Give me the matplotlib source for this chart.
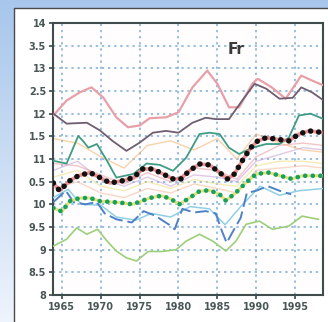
import numpy as np
import matplotlib.pyplot as plt
from matplotlib.patches import Rectangle

# series read as (year, value) pairs
pink_x = [1963.9, 1965.6, 1967.3, 1968.8, 1970.3, 1972.0, 1973.5, 1975.0, 1976.3, 1978.4,
          1980.0, 1981.8, 1983.7, 1985.0, 1986.5, 1987.8, 1989.5, 1990.2, 1992.0, 1993.8,
          1995.8, 1997.2, 1998.7]
pink_y = [11.96, 12.29, 12.47, 12.58, 12.36, 11.92, 11.70, 11.74, 11.90, 11.92,
          12.03, 12.58, 12.95, 12.66, 12.14, 12.14, 12.66, 12.77, 12.58, 12.33,
          12.84, 12.73, 12.62]

mauve_x = [1963.9, 1965.6, 1968.2, 1969.9, 1971.5, 1973.3, 1975.0, 1976.7, 1978.4, 1980.0,
           1981.8, 1983.5, 1984.8, 1986.5, 1988.2, 1989.8, 1991.3, 1993.0, 1994.7, 1995.8,
           1997.2, 1998.7]
mauve_y = [12.00, 11.78, 11.80, 11.63, 11.40, 11.18, 11.36, 11.58, 11.62, 11.58,
           11.80, 11.91, 11.88, 11.88, 12.29, 12.66, 12.55, 12.33, 12.35, 12.58,
           12.47, 12.29]

teal_x = [1963.9, 1965.6, 1967.1, 1967.7, 1968.4, 1969.5, 1970.8, 1972.0, 1974.2, 1975.9,
          1977.6, 1979.3, 1981.0, 1982.7, 1984.0, 1985.3, 1986.5, 1987.8, 1989.5, 1991.3,
          1993.0, 1994.2, 1995.5, 1997.0, 1998.7]
teal_y = [10.96, 10.90, 11.51, 11.40, 11.25, 11.33, 10.96, 10.59, 10.67, 10.90,
          10.87, 10.74, 11.03, 11.55, 11.58, 11.55, 11.25, 11.11, 11.25, 11.33,
          11.33, 11.47, 11.96, 12.00, 11.88]

mean_x = [1963.9, 1964.7, 1966.0, 1967.1, 1968.6, 1969.9, 1971.2, 1972.8, 1974.2, 1975.4,
          1976.7, 1978.0, 1979.3, 1980.3, 1981.4, 1982.7, 1984.0, 1985.3, 1986.3, 1987.2,
          1988.2, 1989.3, 1990.2, 1991.3, 1992.5, 1994.2, 1995.5, 1996.8, 1998.7]
mean_y = [10.47, 10.30, 10.52, 10.63, 10.70, 10.59, 10.47, 10.52, 10.59, 10.78,
          10.78, 10.67, 10.56, 10.56, 10.74, 10.89, 10.87, 10.70, 10.56, 10.67,
          10.96, 11.25, 11.40, 11.47, 11.44, 11.40, 11.55, 11.62, 11.58]

gmean_x = [1963.9, 1965.0, 1966.0, 1967.3, 1968.6, 1969.9, 1972.4, 1974.1, 1976.3, 1977.8,
           1979.0, 1980.1, 1981.4, 1982.7, 1984.0, 1985.3, 1986.1, 1987.4, 1988.7, 1990.0,
           1991.6, 1993.1, 1994.6, 1995.9, 1997.6, 1998.7]
gmean_y = [9.92, 9.84, 10.07, 10.14, 10.14, 10.07, 10.04, 10.00, 10.14, 10.19,
           10.12, 10.00, 10.14, 10.29, 10.31, 10.22, 10.08, 10.26, 10.48, 10.67,
           10.70, 10.63, 10.56, 10.63, 10.63, 10.63]

blue_x = [1963.9, 1965.5, 1966.5, 1968.0, 1969.5, 1970.5, 1972.0, 1974.0, 1975.5, 1977.0,
          1978.8, 1979.5, 1980.5, 1982.0, 1983.5, 1984.8, 1985.5, 1986.2, 1987.0, 1988.0,
          1988.8, 1990.0, 1991.5, 1993.0, 1994.5]
blue_y = [10.05, 10.30, 10.05, 10.00, 10.05, 9.80, 9.67, 9.60, 9.85, 9.75,
          9.55, 9.45, 9.90, 9.82, 9.85, 9.80, 9.45, 9.15, 9.40, 9.70,
          10.25, 10.30, 10.40, 10.30, 10.22]

cyan_x = [1963.9, 1965.8, 1967.5, 1970.0, 1972.0, 1974.5, 1976.5, 1979.0, 1981.5, 1984.0,
          1986.0, 1988.0, 1990.5, 1993.0, 1995.5, 1998.7]
cyan_y = [10.15, 10.33, 10.00, 9.98, 9.72, 9.65, 9.80, 9.72, 9.95, 9.90,
          9.55, 9.95, 10.40, 10.20, 10.30, 10.35]

lgreen_x = [1963.9, 1965.6, 1966.9, 1968.2, 1969.6, 1970.8, 1972.0, 1973.3, 1974.6, 1976.1,
            1977.9, 1979.7, 1981.0, 1982.7, 1984.4, 1986.1, 1987.4, 1988.7, 1990.4, 1992.1,
            1994.2, 1995.9, 1998.0]
lgreen_y = [9.08, 9.23, 9.48, 9.34, 9.45, 9.19, 8.97, 8.82, 8.75, 8.96,
            8.96, 9.00, 9.19, 9.34, 9.19, 8.97, 9.19, 9.56, 9.63, 9.45,
            9.52, 9.74, 9.67]

# fainter members of the ensemble
faint_x = [1963.9, 1967.0, 1970.0, 1973.0, 1976.0, 1979.0, 1982.0, 1985.0, 1987.5, 1990.0,
           1993.0, 1996.0, 1998.7]
orange_y = [11.45, 11.35, 11.05, 10.80, 11.30, 11.40, 11.20, 11.45, 11.00, 11.55, 11.35, 11.20, 11.15]
rose_y = [10.90, 10.85, 10.65, 10.45, 10.70, 10.50, 10.80, 10.75, 10.55, 11.05, 11.30, 11.35, 11.30]
violet_y = [10.75, 10.95, 10.55, 10.40, 10.60, 10.40, 10.65, 10.60, 10.50, 10.95, 11.10, 11.25, 11.20]
yellow_y = [10.60, 10.75, 10.40, 10.30, 10.50, 10.35, 10.55, 10.45, 10.40, 10.85, 10.95, 10.95, 10.90]
peach_y = [10.35, 10.50, 10.25, 10.15, 10.35, 10.25, 10.45, 10.35, 10.25, 10.75, 10.80, 10.85, 10.80]

x_ticks = [1965, 1970, 1975, 1980, 1985, 1990, 1995]
y_ticks = [14, 13.5, 13, 12.5, 12, 11.5, 11, 10.5, 10, 9.5, 9, 8.5, 8]
y_labels = ['14', '3.5', '13', '2.5', '12', '1.5', '11', '0.5', '10', '9.5', '9', '8.5', '8']

W, H = 328, 322
fig = plt.figure(figsize=(W / 100, H / 100), dpi=100)

# blue backdrop fading downwards
bg = fig.add_axes([0, 0, 1, 1], zorder=-2)
grad = np.linspace(0, 1, 256)[:, None]
top = np.array([168, 198, 236]) / 255
bot = np.array([238, 244, 252]) / 255
img = top[None, None, :] * (1 - grad[..., None]) + bot[None, None, :] * grad[..., None]
bg.imshow(img, aspect='auto', extent=[0, 1, 0, 1])
bg.set_axis_off()

# white panel
fig.patches.append(Rectangle((14 / W, -0.02), 1.0, 1 - 8 / H + 0.02, transform=fig.transFigure,
                             facecolor='white', edgecolor='#4a4a4a', lw=1.0, zorder=-1))

ax = fig.add_axes([53 / W, 1 - 295 / H, (323 - 53) / W, (295 - 23) / H])
ax.set_facecolor('#fffdfd')

for vals, col in [(orange_y, '#f2b878'), (rose_y, '#eaa0a8'), (violet_y, '#c8a8d8'),
                  (yellow_y, '#eee08a'), (peach_y, '#f4c0a0')]:
    ax.plot(faint_x, vals, color=col, lw=1.0, alpha=0.6, zorder=2)

ax.plot(pink_x, pink_y, color='#e8a0a8', lw=1.6, zorder=3)
ax.plot(mauve_x, mauve_y, color='#6e5e70', lw=1.3, zorder=3)
ax.plot(teal_x, teal_y, color='#3f9c84', lw=1.3, zorder=3)
ax.plot(cyan_x, cyan_y, color='#8fd0e6', lw=1.1, zorder=3)
ax.plot(blue_x, blue_y, color='#4d82c8', lw=1.4, ls=(0, (7, 2.5)), zorder=3)
ax.plot(lgreen_x, lgreen_y, color='#9ccf7c', lw=1.2, zorder=3)

# ensemble means: dotted over a coloured band
ax.plot(gmean_x, gmean_y, color='#e6e27a', lw=2.2, zorder=4)
ax.plot(gmean_x, gmean_y, color='#17a060', lw=3.4, ls=(0, (0.01, 1.6)),
        dash_capstyle='round', zorder=5)
ax.plot(mean_x, mean_y, color='#e86a6a', lw=2.6, alpha=0.7, zorder=4)
ax.plot(mean_x, mean_y, color='#111111', lw=4.0, ls=(0, (0.01, 1.45)),
        dash_capstyle='round', zorder=5)

ax.text(1987.4, 13.42, 'Fr', fontsize=11, fontweight='bold', color='#3a3a3a',
        ha='center', va='center', zorder=6)

ax.set_xlim(1963.85, 1998.6)
ax.set_ylim(8, 14)
ax.set_xticks(x_ticks)
ax.set_yticks(y_ticks)
ax.set_yticklabels(y_labels)
ax.grid(True, color='#7aaed6', ls=(0, (1.5, 2.5)), lw=1.1, zorder=1)
ax.tick_params(direction='out', length=3, width=1.2, colors='#3a4848', labelsize=7, pad=2)
for lab in ax.get_xticklabels() + ax.get_yticklabels():
    lab.set_fontweight('bold')
    lab.set_color('#4a5656')
for s in ax.spines.values():
    s.set_color('#3e4c4c')
    s.set_linewidth(1.5)

fig.savefig('out.png', dpi=100)
